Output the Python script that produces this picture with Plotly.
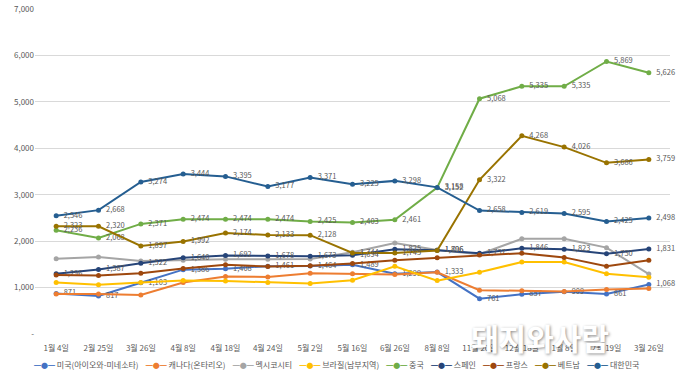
import plotly.graph_objects as go

categories = ["1월 4일", "2월 25일", "3월 26일", "4월 8일", "4월 18일", "4월 24일", "5월 2일",
              "5월 16일", "6월 26일", "8월 8일", "11월 20일", "12월 18일", "1월 8일", "2월 19일", "3월 26일"]

usa = [871, 817, 1103, 1386, 1408, 1461, 1464, 1489, 1299, 1333, 761, 857, 909, 861, 1068]
canada = [860, 860, 840, 1110, 1240, 1230, 1310, 1300, 1280, 1330, 945, 930, 915, 960, 980]
mexico = [1620, 1660, 1570, 1590, 1610, 1610, 1615, 1760, 1960, 1810, 1720, 2050, 2050, 1860, 1290]
brazil = [1110, 1060, 1110, 1150, 1140, 1110, 1090, 1160, 1460, 1150, 1330, 1550, 1550, 1300, 1220]
china = [2236, 2068, 2371, 2474, 2474, 2474, 2425, 2403, 2461, 3152, 5068, 5335, 5335, 5869, 5626]
spain = [1296, 1387, 1522, 1640, 1692, 1678, 1673, 1694, 1825, 1806, 1737, 1846, 1823, 1730, 1831]
france = [1270, 1260, 1310, 1410, 1490, 1455, 1470, 1520, 1590, 1640, 1700, 1740, 1650, 1460, 1590]
vietnam = [2323, 2320, 1897, 1992, 2174, 2133, 2128, 1744, 1745, 1796, 3322, 4268, 4026, 3686, 3759]
korea = [2546, 2668, 3274, 3444, 3395, 3177, 3371, 3225, 3298, 3158, 2658, 2619, 2595, 2425, 2498]

series_names = ["미국(아이오와-미네소타)", "캐나다(온타리오)", "멕시코시티", "브라질(남부지역)", "중국",
                "스페인", "프랑스", "베트남", "대한민국"]
series_values = [usa, canada, mexico, brazil, china, spain, france, vietnam, korea]
series_colors = ["#4472C4", "#ED7D31", "#A5A5A5", "#FFC000", "#70AD47",
                 "#264478", "#9E480E", "#997300", "#255E91"]
series_labeled = [True, False, False, False, True, True, False, True, True]

y_tickvals = [0, 1000, 2000, 3000, 4000, 5000, 6000, 7000]
y_ticktext = ["-", "1,000", "2,000", "3,000", "4,000", "5,000", "6,000", "7,000"]

FONT = "Noto Sans CJK KR, Noto Sans, sans-serif"
GRAY = "#595959"

fig = go.Figure()
xs = list(range(len(categories)))
for name, vals, col, lab in zip(series_names, series_values, series_colors, series_labeled):
    fig.add_trace(go.Scatter(
        x=xs, y=vals, name=name,
        mode="lines+markers+text" if lab else "lines+markers",
        line=dict(color=col, width=2),
        marker=dict(color=col, size=5),
        text=["\u00a0\u00a0" + f"{v:,}" for v in vals] if lab else None,
        textposition="middle right",
        textfont=dict(family=FONT, size=7.5, color=GRAY),
        cliponaxis=False,
        showlegend=False,
    ))

legend_html = "&nbsp;&nbsp;&nbsp;&nbsp;".join(
    f"<span style='color:{c};font-size:7px'>━●━</span> {n}" for n, c in zip(series_names, series_colors)
)
fig.add_annotation(text=legend_html, xref="paper", yref="paper", x=0.475, y=-0.095,
                   xanchor="center", yanchor="middle", showarrow=False,
                   font=dict(family=FONT, size=8, color=GRAY))

fig.add_annotation(text="돼지와사람", xref="paper", yref="paper", x=0.795, y=-0.01,
                   xanchor="center", yanchor="middle", showarrow=False,
                   font=dict(family=FONT, size=30, color="white", weight="bold",
                             shadow="1px 1px 3px rgba(0,0,0,0.45)"))

fig.update_layout(
    template="none",
    width=680, height=377,
    margin=dict(l=35, r=10, t=9, b=43),
    paper_bgcolor="white", plot_bgcolor="white",
    font=dict(family=FONT, size=8, color=GRAY),
    xaxis=dict(tickmode="array", tickvals=xs, ticktext=categories, range=[-0.5, len(categories) - 0.5],
               showgrid=False, showline=False, zeroline=False, ticks="", ticklabelstandoff=8,
               tickfont=dict(family=FONT, size=8, color=GRAY)),
    yaxis=dict(range=[0, 7000], tickmode="array", tickvals=y_tickvals, ticktext=y_ticktext,
               showgrid=True, gridcolor="#D9D9D9", gridwidth=1, zeroline=False, showline=False,
               ticks="", tickfont=dict(family=FONT, size=8, color=GRAY)),
)

fig.write_html("out.html", config={"displayModeBar": False},
               post_script="document.body.style.margin='0';document.body.style.overflow='hidden';")
